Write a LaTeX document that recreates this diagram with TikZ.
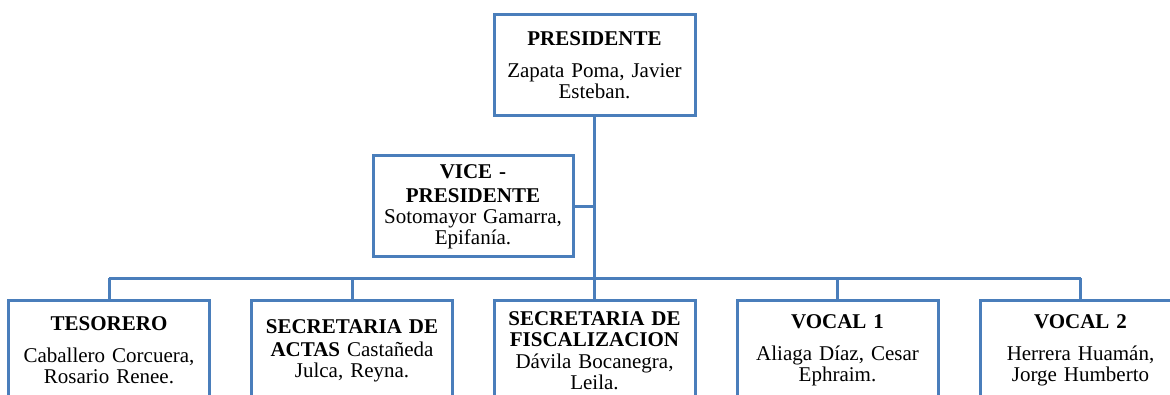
\documentclass[tikz,border=0pt]{standalone}
\usepackage{fontspec}
\setmainfont{Liberation Serif}
\usepackage{xcolor}
\usepackage{tikz}
\definecolor{orgblue}{RGB}{74,126,187}

\begin{document}
\begin{tikzpicture}[x=1pt,y=1pt,
  cargo/.style={draw=orgblue,line width=3pt,fill=white,minimum width=201pt,minimum height=101pt,
    text width=190pt,align=center,inner sep=0pt,font=\fontsize{21}{21}\selectfont},
  enlace/.style={draw=orgblue,line width=3pt}]
\useasboundingbox (0,0) rectangle (1170,394);
\node[cargo] (presidente) at (594.5,329) {\textbf{PRESIDENTE}\\[11pt]Zapata Poma, Javier\\Esteban.};
\node[cargo,minimum width=200pt] (vice) at (473,187.5) {\textbf{VICE -}\\[3pt]\textbf{PRESIDENTE}\\Sotomayor Gamarra,\\Epifanía.};
\node[cargo] (tesorero) at (109,43.5) {\textbf{TESORERO}\\[11pt]Caballero Corcuera,\\Rosario Renee.};
\node[cargo] (actas) at (352,43.5) {\textbf{SECRETARIA DE}\\[2pt]\textbf{ACTAS} Castañeda\\Julca, Reyna.};
\node[cargo] (fiscal) at (594.5,43.5) {\textbf{SECRETARIA DE}\\\textbf{FISCALIZACION}\\[1pt]Dávila Bocanegra,\\Leila.};
\node[cargo] (vocaluno) at (837.5,43.5) {\textbf{VOCAL 1}\\[11pt]Aliaga Díaz, Cesar\\Ephraim.};
\node[cargo] (vocaldos) at (1080.5,43.5) {\textbf{VOCAL 2}\\[11pt]Herrera Huamán,\\Jorge Humberto};
\coordinate (bus) at (594.5,116); % linea horizontal
\draw[enlace] (presidente.south) -- (bus);
\draw[enlace] (vice.east) -- (vice.east -| bus);
\draw[enlace] (tesorero.north |- bus) -- (vocaldos.north |- bus);
\foreach \n in {tesorero,actas,fiscal,vocaluno,vocaldos}
  \draw[enlace] (\n.north) -- (\n.north |- bus);
\end{tikzpicture}
\end{document}
